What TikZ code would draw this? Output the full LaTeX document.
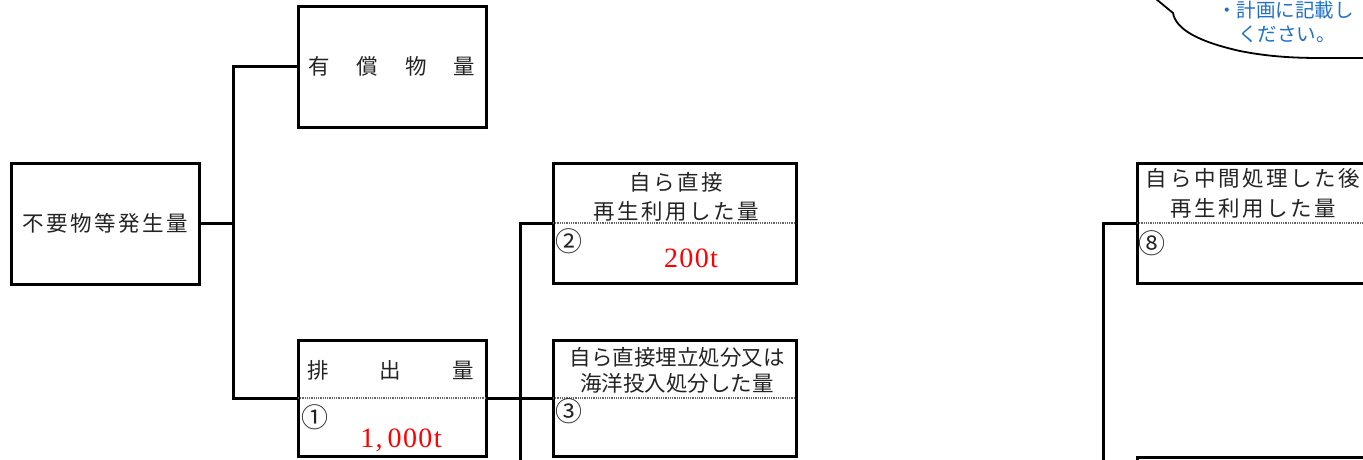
\documentclass[tikz,border=0pt]{standalone}
\usepackage{fontspec}
\newfontfamily\jp{Noto Sans CJK JP}
\newfontfamily\jpsp[LetterSpace=12]{Noto Sans CJK JP}
\newfontfamily\jpsm[LetterSpace=0]{Noto Sans CJK JP}
\newfontfamily\numf[LetterSpace=5]{Liberation Serif}
\definecolor{callblue}{RGB}{30,112,200}
\definecolor{txt}{RGB}{35,35,35}
\begin{document}
\begin{tikzpicture}[x=1pt,y=-1pt,
  box/.style={draw=black,line width=3pt,minimum width=188pt,minimum height=121pt,inner sep=0pt,
    font={\jpsp\fontsize{21.5pt}{28pt}\selectfont},text=txt},
  conn/.style={line width=3pt},
  div/.style={draw=black!60,line width=2pt,dash pattern=on 1pt off 0.8pt},
  lbl/.style={inner sep=0pt,text=txt,font={\jpsp\fontsize{21.5pt}{29pt}\selectfont}},
  lblsm/.style={inner sep=0pt,text=txt,font={\jpsm\fontsize{21.5pt}{26pt}\selectfont}},
  lblplain/.style={inner sep=0pt,text=txt,font={\jp\fontsize{21.5pt}{26pt}\selectfont}},
  circ/.style={inner sep=0pt,text=txt,anchor=west,font={\jp\fontsize{27pt}{30pt}\selectfont}},
  val/.style={inner sep=0pt,text=red,font={\numf\fontsize{28pt}{32pt}\selectfont}},
  callt/.style={inner sep=0pt,anchor=west,text=callblue,font={\jp\fontsize{19.5pt}{24pt}\selectfont}}
]
\useasboundingbox (0,0) rectangle (1363,459);
\clip (0,0) rectangle (1363,459);

% callout (partly outside the picture)
\draw[line width=1.8pt] (1150,-6) -- (1173,13)
  .. controls (1176,30) and (1200,42) .. (1240,51)
  .. controls (1265,56) and (1290,58) .. (1320,58) -- (1380,58);
\node[callt] (call1) at (1217,10.5) {・計画に記載し};
\node[callt] (call2) at (1238,34) {ください。};

% boxes
\node[box] (gen) at (105,223.5) {不要物等発生量};
\node[box,font={\jp\fontsize{21.5pt}{26pt}\selectfont}] (yusho) at (392,66.5)
  {\hbox to 167pt{有\hfill 償\hfill 物\hfill 量}};
\node[box,minimum height=116pt] (haishutsu) at (392,398) {};
\node[box,minimum width=243pt,minimum height=120pt] (reuse) at (674.5,223) {};
\node[box,minimum width=243pt,minimum height=116pt] (landfill) at (674.5,398) {};
\node[box,minimum width=243pt,minimum height=120pt] (midreuse) at (1258.5,223) {};
\node[box,minimum width=243pt,minimum height=120pt] (lowerbox) at (1258.5,517) {};

% dividers
\draw[div] ([xshift=1.5pt]haishutsu.west) -- ([xshift=-1.5pt]haishutsu.east);
\draw[div] ([xshift=1.5pt]reuse.west) -- ([xshift=-1.5pt]reuse.east);
\draw[div] ([xshift=1.5pt]landfill.west) -- ([xshift=-1.5pt]landfill.east);
\draw[div] ([xshift=1.5pt]midreuse.west) -- ([xshift=-1.5pt]midreuse.east);

% texts
\node[lblplain] (haitext) at (390.5,370) {\hbox to 167pt{排\hfill 出\hfill 量}};
\node[circ] (c1) at (301,417) {①};
\node[val] (v1) at (401,440) {1,\kern5pt 000t};

\node[lbl,align=center] (reusetext) at (676,196.5) {自ら直接\\再生利用した量};
\node[circ] (c2) at (555,241) {②};
\node[val] (v2) at (691,258) {200t};

\node[lblsm,align=center] (landtext) at (677,370) {自ら直接埋立処分又は\\海洋投入処分した量};
\node[circ] (c3) at (555,411) {③};

\node[lbl,align=center,font={\jpsp\fontsize{21.5pt}{30pt}\selectfont}] (midtext) at (1253,193) {自ら中間処理した後\\再生利用した量};
\node[circ] (c8) at (1138,243) {⑧};

% connectors
\coordinate (j1) at (233,223.5);
\draw[conn] (gen.east) -- ([xshift=1.5pt]j1);
\draw[conn] (yusho.west) -| (j1) |- (haishutsu.west);
\draw[conn] (haishutsu.east) -- (landfill.west);
\coordinate (d1) at (520,475);
\draw[conn] (reuse.west) -| (d1);
\coordinate (d2) at (1103,475);
\draw[conn] (midreuse.west) -| (d2);
\end{tikzpicture}
\end{document}
